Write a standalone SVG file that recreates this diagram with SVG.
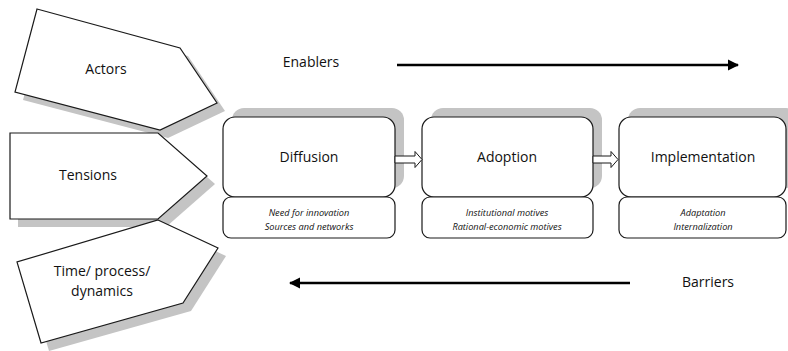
<svg xmlns="http://www.w3.org/2000/svg" width="788" height="351" viewBox="0 0 788 351">
  <style>
    .shadow { fill: #c4c4c4; stroke: none; }
    .shape { fill: #ffffff; stroke: #1a1a1a; stroke-width: 1.2; }
    .label { font-family: "Open Sans", "Noto Sans", sans-serif; font-size: 14px; fill: #111; text-anchor: middle; }
    .note { font-family: "Open Sans", "Noto Sans", sans-serif; font-size: 9.2px; font-style: italic; fill: #111; text-anchor: middle; }
    .flow { stroke: #000; stroke-width: 2.6; fill: none; }
    .step { fill: #ffffff; stroke: #1a1a1a; stroke-width: 1; }
  </style>
  <defs>
    <marker id="head" viewBox="0 0 10 10" refX="9" refY="5" markerWidth="4.4" markerHeight="4.4" orient="auto" markerUnits="strokeWidth">
      <path d="M0,0 L10,5 L0,10 z" fill="#000"/>
    </marker>
  </defs>

  <rect width="788" height="351" fill="#ffffff"/>

  <!-- Factor pentagons on the left -->
  <g id="actors">
    <polygon class="shadow" points="45,17 188,56 225,111 168,138 23,100"/>
    <polygon class="shape" points="37,9 180,48 217,103 160,130 15,92"/>
    <text class="label" x="106" y="74">Actors</text>
  </g>
  <g id="tensions">
    <polygon class="shadow" points="18,141 166,141 215,184 166,227 18,227"/>
    <polygon class="shape" points="10,133 158,133 207,176 158,219 10,219"/>
    <text class="label" x="88" y="180">Tensions</text>
  </g>
  <g id="time-process">
    <polygon class="shadow" points="166,228 226,256 191,311 49,351 25,270"/>
    <polygon class="shape" points="158,220 218,248 183,303 41,343 17,262"/>
    <text class="label" x="102" y="276">Time/ process/</text>
    <text class="label" x="102" y="296">dynamics</text>
  </g>

  <!-- Process stages -->
  <g id="diffusion">
    <rect class="shadow" x="232" y="108" width="172" height="80" rx="12"/>
    <rect class="shape" x="223" y="117" width="172" height="80" rx="12"/>
    <text class="label" x="309" y="162">Diffusion</text>
    <rect class="shape" x="223" y="197" width="172" height="41" rx="8"/>
    <text class="note" x="309" y="216">Need for innovation</text>
    <text class="note" x="309" y="230">Sources and networks</text>
  </g>
  <g id="adoption">
    <rect class="shadow" x="431" y="108" width="171" height="80" rx="12"/>
    <rect class="shape" x="422" y="117" width="171" height="80" rx="12"/>
    <text class="label" x="507" y="162">Adoption</text>
    <rect class="shape" x="422" y="197" width="171" height="41" rx="8"/>
    <text class="note" x="507" y="216">Institutional motives</text>
    <text class="note" x="507" y="230">Rational-economic motives</text>
  </g>
  <g id="implementation">
    <rect class="shadow" x="628" y="108" width="170" height="80" rx="12"/>
    <rect class="shape" x="619" y="117" width="167" height="80" rx="12"/>
    <text class="label" x="703" y="162">Implementation</text>
    <rect class="shape" x="619" y="197" width="167" height="41" rx="8"/>
    <text class="note" x="703" y="216">Adaptation</text>
    <text class="note" x="703" y="230">Internalization</text>
  </g>

  <!-- Connectors -->
  <g id="connectors">
    <polygon class="step" points="395,156 415,156 415,151.5 422,159.5 415,167.5 415,163 395,163"/>
    <polygon class="step" points="593,156 611,156 611,151.5 618,159.5 611,167.5 611,163 593,163"/>
    <line class="flow" x1="397" y1="65" x2="738" y2="65" marker-end="url(#head)"/>
    <line class="flow" x1="630" y1="283" x2="290" y2="283" marker-end="url(#head)"/>
  </g>

  <text class="label" x="311" y="67">Enablers</text>
  <text class="label" x="708" y="287">Barriers</text>
</svg>
